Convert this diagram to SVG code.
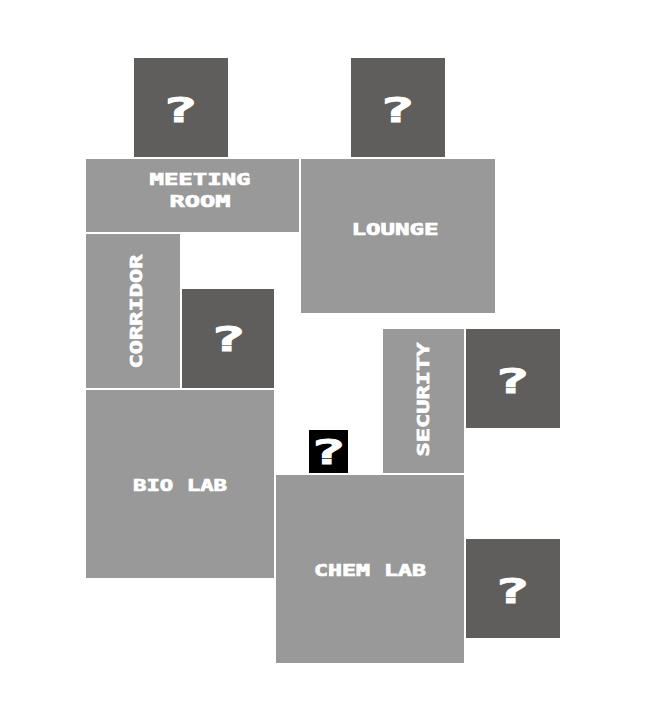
<svg xmlns="http://www.w3.org/2000/svg" width="646" height="720" viewBox="0 0 646 720">
<style>
.room{fill:#999999}
.unk{fill:#5f5e5c}
.blk{fill:#000000}
text{fill:#ffffff;font-family:"DejaVu Sans Mono","Liberation Mono",monospace;font-weight:bold;text-anchor:middle}
.l{font-size:16px;stroke:#ffffff;stroke-width:0.7px}
.q{font-size:33px;stroke:#ffffff;stroke-width:1px}
</style>
<rect width="646" height="720" fill="#ffffff"/>
<g id="nodes">
<g id="unknown-1"><rect class="unk" x="134" y="58" width="94" height="99"/><text class="q" x="180" y="122" textLength="36" lengthAdjust="spacingAndGlyphs">?</text></g>
<g id="unknown-2"><rect class="unk" x="351" y="58" width="94" height="99"/><text class="q" x="397" y="122" textLength="36" lengthAdjust="spacingAndGlyphs">?</text></g>
<g id="meeting-room"><rect class="room" x="86" y="159" width="213" height="73"/><text class="l" x="200" y="185" textLength="101" lengthAdjust="spacingAndGlyphs">MEETING</text><text class="l" x="200" y="207" textLength="61" lengthAdjust="spacingAndGlyphs">ROOM</text></g>
<g id="lounge"><rect class="room" x="301" y="159" width="194" height="154"/><text class="l" x="395" y="235" textLength="87" lengthAdjust="spacingAndGlyphs">LOUNGE</text></g>
<g id="corridor"><rect class="room" x="86" y="234" width="94" height="154"/><text class="l" transform="translate(142 311.500) rotate(-90)" textLength="114" lengthAdjust="spacingAndGlyphs">CORRIDOR</text></g>
<g id="unknown-3"><rect class="unk" x="182" y="289" width="92" height="99"/><text class="q" x="228" y="351" textLength="36" lengthAdjust="spacingAndGlyphs">?</text></g>
<g id="bio-lab"><rect class="room" x="86" y="390" width="188" height="188"/><text class="l" x="180" y="491" textLength="94" lengthAdjust="spacingAndGlyphs">BIO LAB</text></g>
<g id="security"><rect class="room" x="383" y="329" width="81" height="144"/><text class="l" transform="translate(429 399.500) rotate(-90)" textLength="114" lengthAdjust="spacingAndGlyphs">SECURITY</text></g>
<g id="unknown-4"><rect class="unk" x="466" y="329" width="94" height="99"/><text class="q" x="512" y="393" textLength="36" lengthAdjust="spacingAndGlyphs">?</text></g>
<g id="unknown-black"><rect class="blk" x="309" y="430" width="39" height="43"/><text class="q" x="328" y="464" textLength="36" lengthAdjust="spacingAndGlyphs">?</text></g>
<g id="chem-lab"><rect class="room" x="276" y="475" width="188" height="188"/><text class="l" x="370" y="576" textLength="112" lengthAdjust="spacingAndGlyphs">CHEM LAB</text></g>
<g id="unknown-5"><rect class="unk" x="466" y="539" width="94" height="99"/><text class="q" x="512" y="603" textLength="36" lengthAdjust="spacingAndGlyphs">?</text></g>
</g>
<g id="connectors"/>
</svg>
